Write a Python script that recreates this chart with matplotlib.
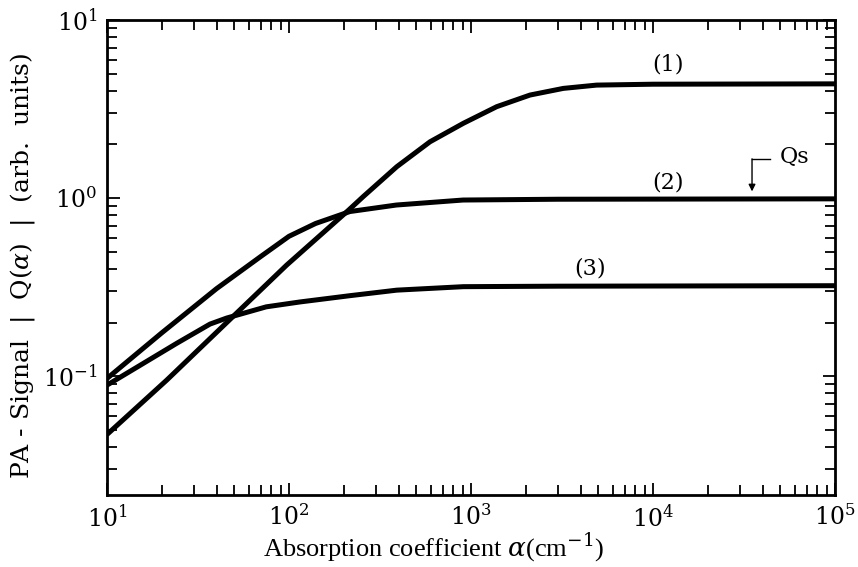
import numpy as np
import matplotlib.pyplot as plt
from matplotlib.ticker import LogLocator, NullFormatter

# values (log-log)
alpha1 = [10, 21.3, 45.5, 97, 211, 256, 391, 595, 908, 1384, 2110, 3214, 4900, 10000, 100000]
q1 = [0.047, 0.095, 0.20, 0.42, 0.85, 1.02, 1.50, 2.07, 2.63, 3.26, 3.79, 4.13, 4.31, 4.36, 4.38]

alpha2 = [10, 20, 40, 70, 100, 140, 216, 389, 904, 3000, 100000]
q2 = [0.097, 0.175, 0.31, 0.47, 0.61, 0.72, 0.84, 0.914, 0.975, 0.985, 0.99]

alpha3 = [10, 15.2, 24.2, 36.8, 45.5, 75, 115, 168, 216, 391, 908, 3000, 100000]
q3 = [0.089, 0.115, 0.153, 0.196, 0.212, 0.245, 0.261, 0.274, 0.283, 0.304, 0.318, 0.32, 0.322]

plt.rcParams['font.family'] = 'DejaVu Serif'
plt.rcParams['mathtext.fontset'] = 'dejavuserif'

fig = plt.figure(figsize=(8.58, 5.67), dpi=100)
ax = fig.add_axes([0.1247, 0.127, 0.8485, 0.8377])

for a, q in [(alpha1, q1), (alpha2, q2), (alpha3, q3)]:
    ax.plot(a, q, color='black', lw=3.6, solid_capstyle='butt')

ax.set_xscale('log')
ax.set_yscale('log')
ax.set_xlim(10, 1e5)
ax.set_ylim(0.0215, 10)

ax.xaxis.set_major_locator(LogLocator(base=10, numticks=10))
ax.yaxis.set_major_locator(LogLocator(base=10, numticks=10))
ax.xaxis.set_minor_locator(LogLocator(base=10, subs=np.arange(2, 10), numticks=10))
ax.yaxis.set_minor_locator(LogLocator(base=10, subs=np.arange(2, 10), numticks=10))
ax.xaxis.set_minor_formatter(NullFormatter())
ax.yaxis.set_minor_formatter(NullFormatter())

ax.tick_params(which='both', direction='in', top=True, right=True, width=1.3, labelsize=17)
ax.tick_params(which='major', length=9, pad=7)
ax.tick_params(which='minor', length=7)
for s in ax.spines.values():
    s.set_linewidth(2)

ax.set_xlabel(r'Absorption coefficient $\alpha$(cm$^{-1}$)', fontsize=19, family='Liberation Serif')
ax.xaxis.set_label_coords(0.449, -0.076)
ax.set_ylabel(r'PA - Signal  |  Q($\alpha$)  |  (arb.  units)', fontsize=18)
ax.yaxis.set_label_coords(-0.096, 0.482)

ax.text(12080, 5.6, '(1)', fontsize=16, ha='center', va='center')
ax.text(12080, 1.23, '(2)', fontsize=16, ha='center', va='center')
ax.text(4510, 0.40, '(3)', fontsize=16, ha='center', va='center')
ax.text(60300, 1.70, 'Qs', fontsize=16, ha='center', va='center')
ax.plot([35000, 43900], [1.66, 1.66], color='black', lw=1)
ax.annotate('', xy=(35000, 1.09), xytext=(35000, 1.66),
            arrowprops=dict(arrowstyle='-|>', color='black', lw=1, mutation_scale=10,
                            shrinkA=0, shrinkB=0))

fig.savefig('out.png', dpi=100)
